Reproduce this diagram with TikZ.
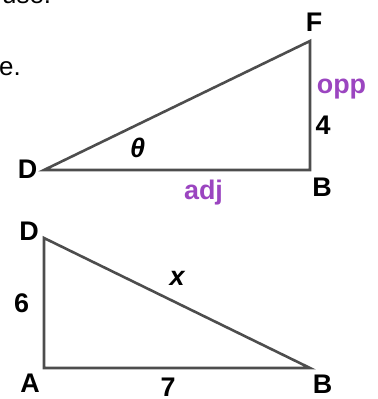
\documentclass[tikz,border=0pt]{standalone}
\usepackage{fontspec}
\setmainfont{Liberation Sans}
\definecolor{edge}{HTML}{4D4D4D}
\definecolor{purp}{HTML}{9B45C0}
\tikzset{
  side/.style={draw=edge, line width=2.6bp, line join=miter},
  lab/.style={inner sep=0pt, font=\fontsize{27}{32}\selectfont\bfseries},
  plab/.style={lab, text=purp, anchor=base},
  body/.style={inner sep=0pt, font=\fontsize{26}{31}\selectfont, anchor=base west}
}
\begin{document}
\begin{tikzpicture}[x=1bp,y=-1bp]
\useasboundingbox (0,0) rectangle (378,399);
\begin{scope}
\clip (0,0) rectangle (378,399);
\node[body] (t1) at (2,3) {use.};
\node[body] (t2) at (-1,75) {e.};
\end{scope}
% top triangle
\coordinate (D1) at (44,170);
\coordinate (B1) at (310,170);
\coordinate (F1) at (310,41);
\draw[side] (D1) -- (B1) -- (F1) -- cycle;
\node[lab] (lF) at (314,22) {F};
\node[lab] (lD1) at (27.5,169) {D};
\node[lab] (lB1) at (322,187) {B};
\node[plab] (opp) at (341.5,93) {opp};
\node[lab] (four) at (323,125) {4};
\node[lab, font=\fontsize{27}{32}\selectfont\bfseries\itshape] (th) at (137.5,148) {θ};
\node[plab] (adj) at (203.5,199) {adj};
% bottom triangle
\coordinate (D2) at (44,238);
\coordinate (A2) at (44,368);
\coordinate (B2) at (310,368);
\draw[side] (D2) -- (A2) -- (B2) -- cycle;
\node[lab] (lD2) at (29,231.5) {D};
\node[lab] (six) at (21.7,303) {6};
\node[lab, font=\fontsize{27}{32}\selectfont\bfseries\itshape] (xx) at (177,278) {x};
\node[lab] (lA2) at (30,383) {A};
\node[lab] (seven) at (168,387) {7};
\node[lab] (lB2) at (322.5,384) {B};
\end{tikzpicture}
\end{document}
